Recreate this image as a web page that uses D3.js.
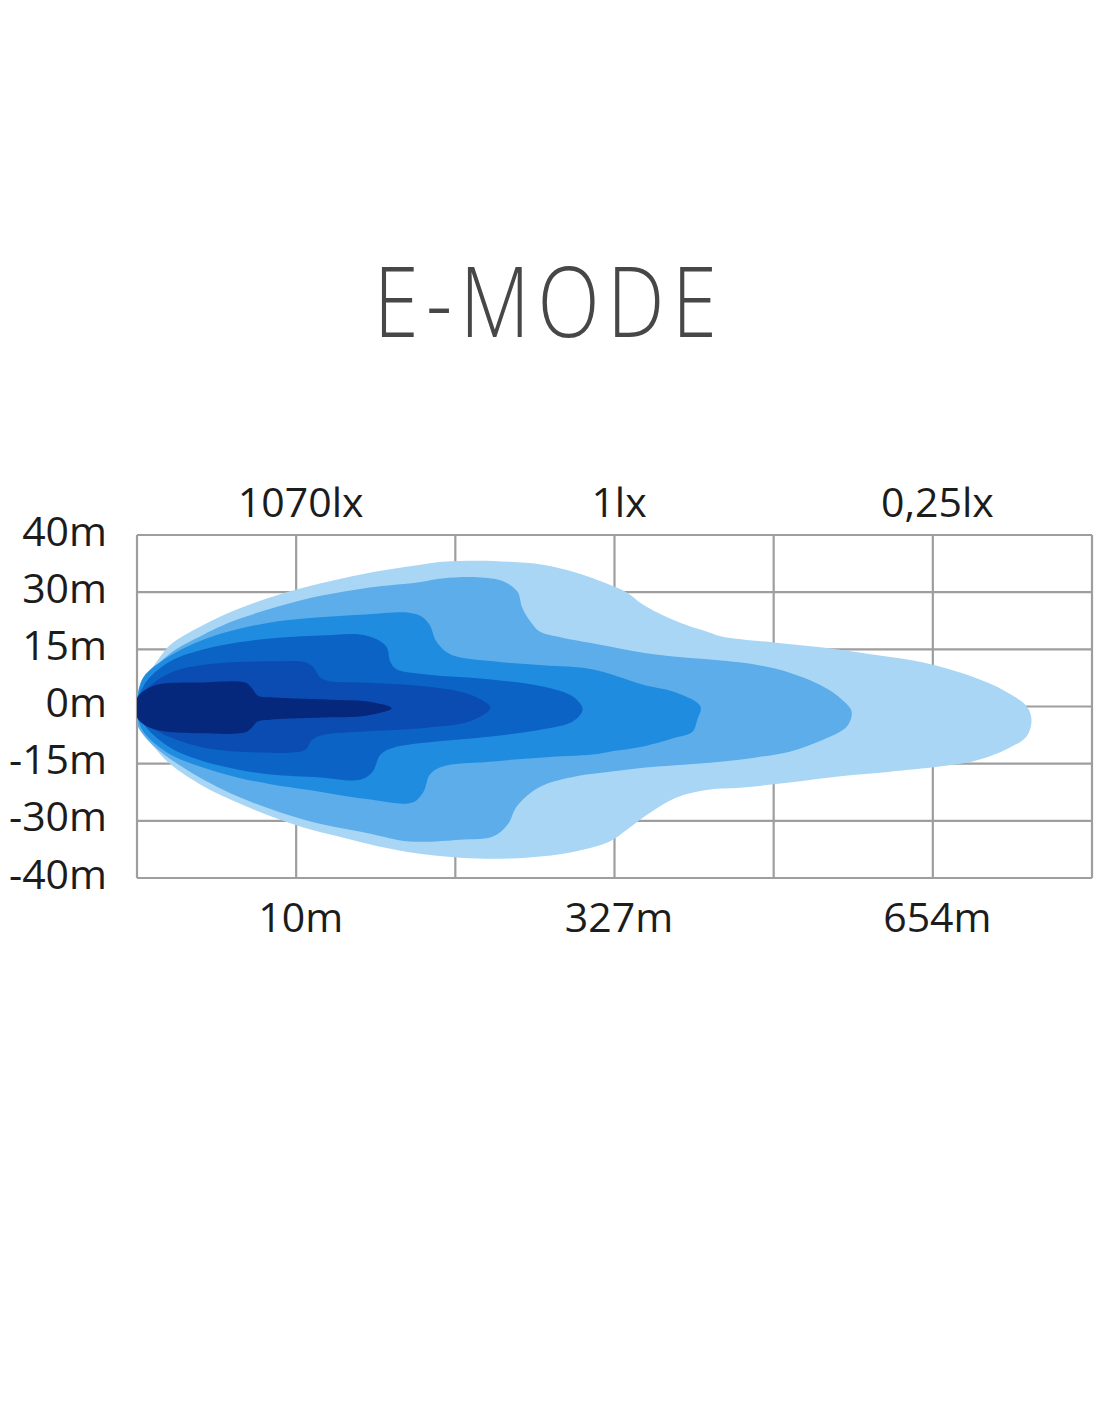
<!DOCTYPE html>
<html>
<head>
<meta charset="utf-8">
<script src="https://cdn.jsdelivr.net/npm/d3@7"></script>
<style>
  html, body { margin: 0; padding: 0; background: #ffffff; }
  svg { display: block; }
  text { font-family: "Open Sans", "Noto Sans", sans-serif; }
</style>
</head>
<body>
<div id="chart"></div>
<script>
// ---------------- data ----------------
const chartTitle = "E-MODE";
const lateralLabels = ["40m", "30m", "15m", "0m", "-15m", "-30m", "-40m"];
const distanceTicks = [1, 3, 5];                 // grid columns (0..6)
const distanceLabels = ["10m", "327m", "654m"];
const illuminanceLabels = ["1070lx", "1lx", "0,25lx"];

// isolux outlines in grid units: [column (0..6), row (+3 top .. -3 bottom)]
const zone1 = [ // outermost, 0.25 lx
  [0.00,0.03],[0.01,0.30],[0.04,0.47],[0.11,0.73],[0.21,1.08],[0.42,1.43],[0.63,1.70],[0.84,1.91],
  [1.05,2.08],[1.26,2.22],[1.46,2.34],[1.76,2.47],[1.92,2.53],[2.14,2.55],[2.34,2.53],[2.55,2.48],
  [2.76,2.34],[2.97,2.13],[3.08,1.99],[3.18,1.78],[3.39,1.49],[3.60,1.29],[3.68,1.22],[4.00,1.12],
  [4.31,1.03],[4.62,0.91],[4.94,0.77],[5.25,0.52],[5.46,0.26],[5.59,0.00],[5.62,-0.23],
  [5.59,-0.52],[5.46,-0.75],[5.25,-0.96],[5.04,-1.05],[4.73,-1.14],[4.42,-1.22],[4.10,-1.33],
  [3.79,-1.42],[3.60,-1.45],[3.39,-1.59],[3.18,-1.94],[3.08,-2.15],[2.97,-2.36],[2.76,-2.53],
  [2.55,-2.62],[2.34,-2.66],[2.14,-2.66],[1.92,-2.62],[1.71,-2.55],[1.46,-2.41],[1.26,-2.27],
  [1.05,-2.12],[0.84,-1.92],[0.63,-1.68],[0.42,-1.40],[0.21,-1.01],[0.11,-0.72],[0.04,-0.49],[0.00,-0.19]
];
const zone2 = [
  [0.00,0.12],[0.05,0.47],[0.21,0.93],[0.42,1.26],[0.63,1.52],[1.05,1.87],[1.46,2.08],[1.76,2.17],
  [1.92,2.24],[2.14,2.26],[2.30,2.19],[2.39,2.01],[2.42,1.73],[2.47,1.49],[2.53,1.31],[2.66,1.21],
  [2.91,1.08],[3.18,0.94],[3.39,0.87],[3.60,0.82],[3.89,0.73],[4.10,0.59],[4.31,0.35],[4.43,0.12],
  [4.49,-0.09],[4.46,-0.35],[4.31,-0.58],[4.10,-0.79],[3.89,-0.89],[3.68,-0.96],[3.47,-1.01],
  [3.18,-1.07],[2.97,-1.14],[2.76,-1.22],[2.55,-1.38],[2.45,-1.56],[2.38,-1.77],[2.33,-2.06],
  [2.24,-2.27],[2.03,-2.33],[1.71,-2.36],[1.46,-2.22],[1.05,-1.98],[0.63,-1.57],[0.31,-1.10],
  [0.11,-0.70],[0.00,-0.31]
];
const zone3 = [
  [0.00,0.09],[0.04,0.51],[0.21,0.89],[0.42,1.17],[0.63,1.35],[0.84,1.47],[1.15,1.56],[1.44,1.61],
  [1.71,1.64],[1.79,1.57],[1.84,1.42],[1.88,1.14],[1.97,0.91],[2.24,0.79],[2.55,0.72],[2.86,0.65],
  [3.18,0.38],[3.39,0.24],[3.54,0.00],[3.52,-0.23],[3.49,-0.44],[3.39,-0.54],[3.18,-0.70],
  [2.97,-0.79],[2.86,-0.84],[2.55,-0.89],[2.24,-0.96],[1.92,-1.05],[1.84,-1.19],[1.80,-1.49],
  [1.73,-1.68],[1.44,-1.62],[1.15,-1.49],[0.84,-1.36],[0.63,-1.24],[0.42,-1.07],[0.21,-0.84],
  [0.04,-0.44],[0.00,-0.14]
];
const zone4 = [
  [0.00,0.07],[0.06,0.44],[0.21,0.79],[0.42,1.00],[0.63,1.12],[0.84,1.19],[1.15,1.24],[1.40,1.26],
  [1.51,1.17],[1.57,1.03],[1.59,0.79],[1.63,0.65],[1.82,0.56],[2.24,0.47],[2.55,0.35],[2.74,0.17],
  [2.80,-0.05],[2.74,-0.26],[2.55,-0.40],[2.24,-0.52],[1.82,-0.63],[1.61,-0.72],[1.53,-0.84],
  [1.48,-1.14],[1.40,-1.28],[1.15,-1.24],[0.84,-1.19],[0.63,-1.10],[0.42,-0.96],[0.21,-0.72],
  [0.06,-0.37],[0.00,-0.09]
];
const zone5 = [
  [0.00,0.05],[0.06,0.30],[0.21,0.59],[0.42,0.73],[0.84,0.79],[1.06,0.77],[1.11,0.68],[1.15,0.51],
  [1.21,0.44],[1.40,0.42],[1.82,0.35],[2.09,0.21],[2.22,-0.02],[2.09,-0.26],[1.82,-0.37],
  [1.40,-0.44],[1.18,-0.49],[1.10,-0.58],[1.06,-0.75],[0.99,-0.80],[0.65,-0.79],[0.42,-0.72],
  [0.21,-0.54],[0.06,-0.30],[0.00,-0.09]
];
const zone6 = [ // innermost, 1070 lx
  [0.00,0.15],[0.05,0.29],[0.14,0.39],[0.40,0.42],[0.68,0.42],[0.72,0.33],[0.76,0.19],[0.84,0.16],
  [1.21,0.12],[1.44,0.09],[1.60,-0.03],[1.44,-0.16],[1.21,-0.19],[0.84,-0.23],[0.76,-0.26],
  [0.72,-0.37],[0.68,-0.45],[0.40,-0.47],[0.14,-0.42],[0.05,-0.33],[0.00,-0.19]
];
const zones = [zone1, zone2, zone3, zone4, zone5, zone6];

// ---------------- styles ----------------
const zoneColors = ["#a9d6f5", "#5cade9", "#1f8ce0", "#0b63c5", "#0a4cb1", "#06287c"];
const gridColor = "#9e9e9e";
const labelColor = "#1c1c1c";

// ---------------- layout ----------------
const W = 1100, H = 1422;
const plot = { left: 137, right: 1092, top: 535, bottom: 878 };

const svg = d3.select("#chart").append("svg")
  .attr("width", W).attr("height", H)
  .attr("viewBox", `0 0 ${W} ${H}`);

const x = d3.scaleLinear().domain([0, 6]).range([plot.left, plot.right]);
const yRow = d3.scaleLinear().domain([3, -3]).range([plot.top, plot.bottom]);
const yLab = d3.scalePoint().domain(lateralLabels).range([plot.top, plot.bottom]);

// title
svg.append("text")
  .attr("transform", `translate(549,337) scale(0.83,1)`)
  .attr("text-anchor", "middle")
  .attr("font-size", 98)
  .attr("font-weight", 350)
  .attr("letter-spacing", 9)
  .attr("fill", "#474747")
  .text(chartTitle);

// grid
const grid = svg.append("g").attr("stroke", gridColor).attr("stroke-width", 2.2).attr("fill", "none");
grid.selectAll("line.v").data(d3.range(0, 7)).join("line")
  .attr("class", "v")
  .attr("x1", d => x(d)).attr("x2", d => x(d))
  .attr("y1", plot.top).attr("y2", plot.bottom);
grid.selectAll("line.h").data(lateralLabels).join("line")
  .attr("class", "h")
  .attr("x1", plot.left).attr("x2", plot.right)
  .attr("y1", d => yLab(d)).attr("y2", d => yLab(d));

// clip
svg.append("clipPath").attr("id", "plotClip")
  .append("rect")
  .attr("x", plot.left).attr("y", plot.top - 5)
  .attr("width", plot.right - plot.left).attr("height", plot.bottom - plot.top + 10);

// isolux zones
const shape = d3.line()
  .x(d => x(d[0]))
  .y(d => yRow(d[1]))
  .curve(d3.curveCatmullRomClosed.alpha(0.5));

svg.append("g").attr("clip-path", "url(#plotClip)")
  .selectAll("path").data(zones).join("path")
  .attr("d", d => shape(d))
  .attr("fill", (d, i) => zoneColors[i]);

// y axis labels
const yAxis = d3.axisLeft(yLab).tickSize(0).tickPadding(0);
const gy = svg.append("g").attr("transform", `translate(107,10)`).call(yAxis);
gy.select(".domain").remove();
gy.selectAll("text")
  .attr("font-size", 41).attr("fill", labelColor).attr("dy", null)
  .attr("font-family", '"Open Sans", sans-serif');

// bottom distance labels
const xBottom = d3.axisBottom(x).tickValues(distanceTicks)
  .tickFormat((d, i) => distanceLabels[i]).tickSize(0).tickPadding(0);
const gb = svg.append("g").attr("transform", `translate(4,932)`).call(xBottom);
gb.select(".domain").remove();
gb.selectAll("text")
  .attr("font-size", 41).attr("fill", labelColor).attr("dy", null).attr("y", 0)
  .attr("font-family", '"Open Sans", sans-serif');

// top illuminance labels
const xTop = d3.axisTop(x).tickValues(distanceTicks)
  .tickFormat((d, i) => illuminanceLabels[i]).tickSize(0).tickPadding(0);
const gt = svg.append("g").attr("transform", `translate(4,517)`).call(xTop);
gt.select(".domain").remove();
gt.selectAll("text")
  .attr("font-size", 41).attr("fill", labelColor).attr("dy", null).attr("y", 0)
  .attr("font-family", '"Open Sans", sans-serif');
</script>
</body>
</html>
